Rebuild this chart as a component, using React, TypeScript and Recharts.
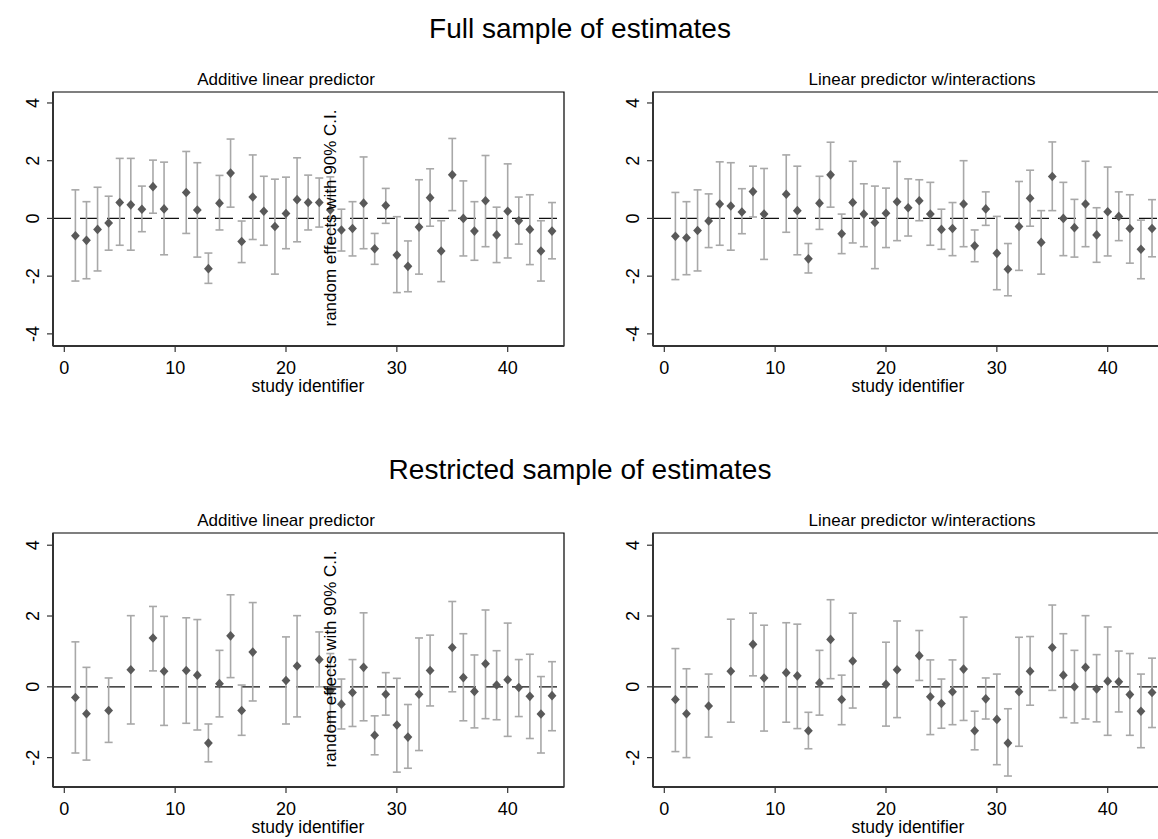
import { ScatterChart, Scatter, XAxis, YAxis, ErrorBar, ReferenceLine, ReferenceArea } from 'recharts';

const FONT = '"Liberation Sans", Arial, Helvetica, sans-serif';

// study identifiers present in each sample
const STUDIES_FULL = [1, 2, 3, 4, 5, 6, 7, 8, 9, 11, 12, 13, 14, 15, 16, 17, 18, 19, 20, 21, 22, 23, 24, 25, 26, 27, 28, 29, 30, 31, 32, 33, 34, 35, 36, 37, 38, 39, 40, 41, 42, 43, 44];
const STUDIES_RESTRICTED = [1, 2, 4, 6, 8, 9, 11, 12, 13, 14, 15, 16, 17, 20, 21, 23, 24, 25, 26, 27, 28, 29, 30, 31, 32, 33, 35, 36, 37, 38, 39, 40, 41, 42, 43, 44];

// Full sample, additive linear predictor
const fullAddEst = [-0.6, -0.76, -0.38, -0.16, 0.55, 0.47, 0.32, 1.1, 0.33, 0.9, 0.29, -1.74, 0.53, 1.57, -0.8, 0.74, 0.25, -0.28, 0.17, 0.65, 0.55, 0.55, 0.29, -0.4, -0.35, 0.53, -1.05, 0.45, -1.27, -1.66, -0.3, 0.72, -1.13, 1.51, 0.0, -0.44, 0.61, -0.57, 0.25, -0.08, -0.38, -1.13, -0.44];
const fullAddHi = [0.99, 0.58, 1.08, 0.77, 2.08, 2.08, 1.12, 2.02, 1.95, 2.32, 1.93, -1.2, 1.49, 2.75, -0.09, 2.2, 1.46, 1.36, 1.43, 2.1, 1.5, 1.4, 1.44, 0.32, 0.58, 2.13, -0.52, 1.04, 0.06, -0.78, 1.34, 1.72, -0.08, 2.77, 1.3, 0.58, 2.18, 0.39, 1.89, 0.74, 0.82, -0.08, 0.55];
const fullAddLo = [-2.17, -2.09, -1.82, -1.1, -0.93, -1.1, -0.46, 0.18, -1.26, -0.52, -1.34, -2.25, -0.4, 0.39, -1.53, -0.73, -0.93, -1.93, -1.05, -0.81, -0.4, -0.3, -0.87, -1.13, -1.3, -1.05, -1.59, -0.17, -2.57, -2.54, -1.93, -0.27, -2.19, 0.27, -1.3, -1.45, -0.98, -1.53, -1.37, -0.89, -1.6, -2.17, -1.4];

// Full sample, linear predictor w/interactions
const fullIntEst = [-0.62, -0.67, -0.42, -0.09, 0.5, 0.43, 0.22, 0.93, 0.15, 0.84, 0.27, -1.4, 0.53, 1.51, -0.53, 0.55, 0.15, -0.14, 0.18, 0.58, 0.37, 0.61, 0.15, -0.38, -0.35, 0.5, -0.95, 0.33, -1.21, -1.76, -0.28, 0.7, -0.83, 1.45, 0.0, -0.32, 0.5, -0.57, 0.23, 0.07, -0.35, -1.07, -0.35];
const fullIntHi = [0.9, 0.58, 0.99, 0.85, 1.96, 1.93, 1.03, 1.81, 1.73, 2.2, 1.81, -0.87, 1.46, 2.64, 0.15, 1.98, 1.2, 1.12, 1.05, 1.97, 1.37, 1.34, 1.25, 0.32, 0.55, 2.0, -0.4, 0.92, 0.07, -0.87, 1.28, 1.67, 0.27, 2.65, 1.25, 0.66, 1.98, 0.37, 1.78, 0.92, 0.82, -0.06, 0.65];
const fullIntLo = [-2.12, -1.95, -1.82, -1.01, -0.93, -1.1, -0.53, 0.05, -1.42, -0.48, -1.26, -1.89, -0.38, 0.39, -1.22, -0.85, -0.98, -1.74, -1.01, -0.77, -0.61, -0.08, -0.93, -1.07, -1.29, -0.98, -1.5, -0.24, -2.47, -2.68, -1.8, -0.27, -1.93, 0.27, -1.29, -1.34, -0.98, -1.52, -1.3, -0.77, -1.55, -2.09, -1.33];

// Restricted sample, additive linear predictor
const resAddEst = [-0.3, -0.76, -0.67, 0.48, 1.38, 0.44, 0.46, 0.33, -1.59, 0.09, 1.44, -0.67, 0.98, 0.18, 0.59, 0.77, -0.11, -0.49, -0.16, 0.55, -1.37, -0.21, -1.08, -1.42, -0.21, 0.46, 1.11, 0.26, -0.13, 0.65, 0.05, 0.2, -0.02, -0.27, -0.77, -0.25];
const resAddHi = [1.27, 0.55, 0.25, 2.01, 2.27, 1.99, 1.95, 1.9, -1.05, 1.03, 2.6, 0.05, 2.38, 1.41, 2.01, 1.55, 0.94, 0.22, 0.77, 2.09, -0.82, 0.4, 0.24, -0.5, 1.38, 1.46, 2.41, 1.5, 0.9, 2.17, 1.02, 1.8, 0.77, 0.92, 0.29, 0.71];
const resAddLo = [-1.87, -2.07, -1.57, -1.05, 0.45, -1.09, -1.03, -1.22, -2.12, -0.85, 0.26, -1.37, -0.4, -1.05, -0.85, 0.0, -1.25, -1.19, -1.12, -0.96, -1.92, -0.8, -2.41, -2.3, -1.8, -0.54, -0.14, -0.96, -1.16, -0.9, -0.93, -1.4, -0.84, -1.46, -1.87, -1.24];

// Restricted sample, linear predictor w/interactions
const resIntEst = [-0.36, -0.76, -0.54, 0.44, 1.2, 0.25, 0.4, 0.31, -1.24, 0.11, 1.34, -0.36, 0.73, 0.07, 0.48, 0.88, -0.28, -0.47, -0.14, 0.5, -1.24, -0.34, -0.92, -1.59, -0.14, 0.44, 1.11, 0.33, 0.0, 0.55, -0.06, 0.16, 0.14, -0.22, -0.69, -0.16];
const resIntHi = [1.08, 0.51, 0.36, 1.91, 2.08, 1.74, 1.81, 1.77, -0.72, 1.03, 2.46, 0.33, 2.08, 1.26, 1.86, 1.59, 0.76, 0.22, 0.76, 1.97, -0.69, 0.25, 0.36, -0.62, 1.4, 1.42, 2.31, 1.5, 1.03, 2.01, 0.91, 1.69, 1.01, 0.94, 0.36, 0.81];
const resIntLo = [-1.83, -2.0, -1.42, -1.0, 0.31, -1.25, -1.0, -1.18, -1.75, -0.8, 0.23, -1.07, -0.6, -1.11, -0.87, 0.18, -1.35, -1.17, -1.07, -0.95, -1.78, -0.91, -2.2, -2.52, -1.68, -0.52, -0.1, -0.87, -1.02, -0.91, -0.99, -1.37, -0.71, -1.37, -1.72, -1.15];

const X_TICKS = [0, 10, 20, 30, 40];
const X_DOMAIN: [number, number] = [-1.02, 45.08];
const Y_TICKS_FULL = [-4, -2, 0, 2, 4];
const Y_DOMAIN_FULL: [number, number] = [-4.42, 4.38];
const Y_TICKS_RES = [-2, 0, 2, 4];
const Y_DOMAIN_RES: [number, number] = [-2.83, 4.345];

const PLOT_W = 511;
const PLOT_H = 254;
const PAD_L = 60;
const PAD_T = 10;

function XTick({ x, y, payload }: any) {
  return (
    <text x={x} y={y + 19.5} textAnchor="middle" fontSize={18} fontFamily={FONT} fill="#000">
      {payload.value}
    </text>
  );
}

function YTick({ x, y, payload }: any) {
  const bx = x - 6;
  return (
    <text x={bx} y={y} transform={`rotate(-90, ${bx}, ${y})`} textAnchor="middle" fontSize={18} fontFamily={FONT} fill="#000">
      {payload.value}
    </text>
  );
}

function Diamond({ cx, cy }: any) {
  if (cx == null || cy == null) return null;
  return <polygon points={`${cx},${cy - 4.8} ${cx + 4.4},${cy} ${cx},${cy + 4.8} ${cx - 4.4},${cy}`} fill="#595959" />;
}

interface PanelProps {
  left: number;
  top: number;
  studies: number[];
  est: number[];
  hi: number[];
  lo: number[];
  yDomain: [number, number];
  yTicks: number[];
}

function Panel({ left, top, studies, est, hi, lo, yDomain, yTicks }: PanelProps) {
  const data = studies.map((s, i) => ({ x: s, y: est[i], err: [est[i] - lo[i], hi[i] - est[i]] }));
  return (
    <div style={{ position: 'absolute', left: left - PAD_L, top: top - PAD_T }}>
      <ScatterChart width={PAD_L + PLOT_W + 10} height={PAD_T + PLOT_H + 50} margin={{ top: PAD_T, right: 10, bottom: 0, left: 0 }}>
        <ReferenceArea x1={X_DOMAIN[0]} x2={X_DOMAIN[1]} y1={yDomain[0]} y2={yDomain[1]} fill="none" stroke="#000" strokeWidth={1.2} fillOpacity={0} />
        <XAxis
          type="number"
          dataKey="x"
          domain={X_DOMAIN}
          ticks={X_TICKS}
          allowDataOverflow
          height={50}
          tickSize={6}
          tickMargin={2}
          tick={<XTick />}
          axisLine={{ stroke: '#333', strokeWidth: 2 }}
          tickLine={{ stroke: '#333', strokeWidth: 1.2 }}
        />
        <YAxis
          type="number"
          dataKey="y"
          domain={yDomain}
          ticks={yTicks}
          allowDataOverflow
          width={PAD_L}
          tickSize={6}
          tickMargin={2}
          tick={<YTick />}
          axisLine={{ stroke: '#333', strokeWidth: 2 }}
          tickLine={{ stroke: '#333', strokeWidth: 1.2 }}
        />
        <ReferenceLine y={0} stroke="#111" strokeWidth={1.2} strokeDasharray="18 9" />
        <Scatter data={data} shape={(p: any) => <Diamond {...p} />} isAnimationActive={false}>
          <ErrorBar dataKey="err" direction="y" width={4} stroke="#a8a8a8" strokeWidth={1.6} isAnimationActive={false} />
        </Scatter>
      </ScatterChart>
    </div>
  );
}

const ROW_OFFSET = 441;

export default function App() {
  const textProps = { fontFamily: FONT, fill: '#000' };
  return (
    <div style={{ position: 'absolute', left: 0, top: 0, width: 1158, height: 839, overflow: 'hidden', background: '#fff' }}>
      <Panel left={53} top={92} studies={STUDIES_FULL} est={fullAddEst} hi={fullAddHi} lo={fullAddLo} yDomain={Y_DOMAIN_FULL} yTicks={Y_TICKS_FULL} />
      <Panel left={653} top={92} studies={STUDIES_FULL} est={fullIntEst} hi={fullIntHi} lo={fullIntLo} yDomain={Y_DOMAIN_FULL} yTicks={Y_TICKS_FULL} />
      <Panel left={53} top={533} studies={STUDIES_RESTRICTED} est={resAddEst} hi={resAddHi} lo={resAddLo} yDomain={Y_DOMAIN_RES} yTicks={Y_TICKS_RES} />
      <Panel left={653} top={533} studies={STUDIES_RESTRICTED} est={resIntEst} hi={resIntHi} lo={resIntLo} yDomain={Y_DOMAIN_RES} yTicks={Y_TICKS_RES} />
      <svg width={1158} height={839} style={{ position: 'absolute', left: 0, top: 0, pointerEvents: 'none' }}>
        {[0, ROW_OFFSET].map((dy, r) => (
          <g key={r}>
            <text x={580} y={38 + dy} textAnchor="middle" fontSize={28} {...textProps}>
              {r === 0 ? 'Full sample of estimates' : 'Restricted sample of estimates'}
            </text>
            <text x={286} y={85 + dy} textAnchor="middle" fontSize={17} {...textProps}>Additive linear predictor</text>
            <text x={922} y={85 + dy} textAnchor="middle" fontSize={17} {...textProps}>Linear predictor w/interactions</text>
            <text x={308} y={392 + dy} textAnchor="middle" fontSize={17.5} {...textProps}>study identifier</text>
            <text x={908} y={392 + dy} textAnchor="middle" fontSize={17.5} {...textProps}>study identifier</text>
            <text x={336} y={218 + dy} transform={`rotate(-90, 336, ${218 + dy})`} textAnchor="middle" fontSize={17} {...textProps}>
              random effects with 90% C.I.
            </text>
          </g>
        ))}
      </svg>
    </div>
  );
}
